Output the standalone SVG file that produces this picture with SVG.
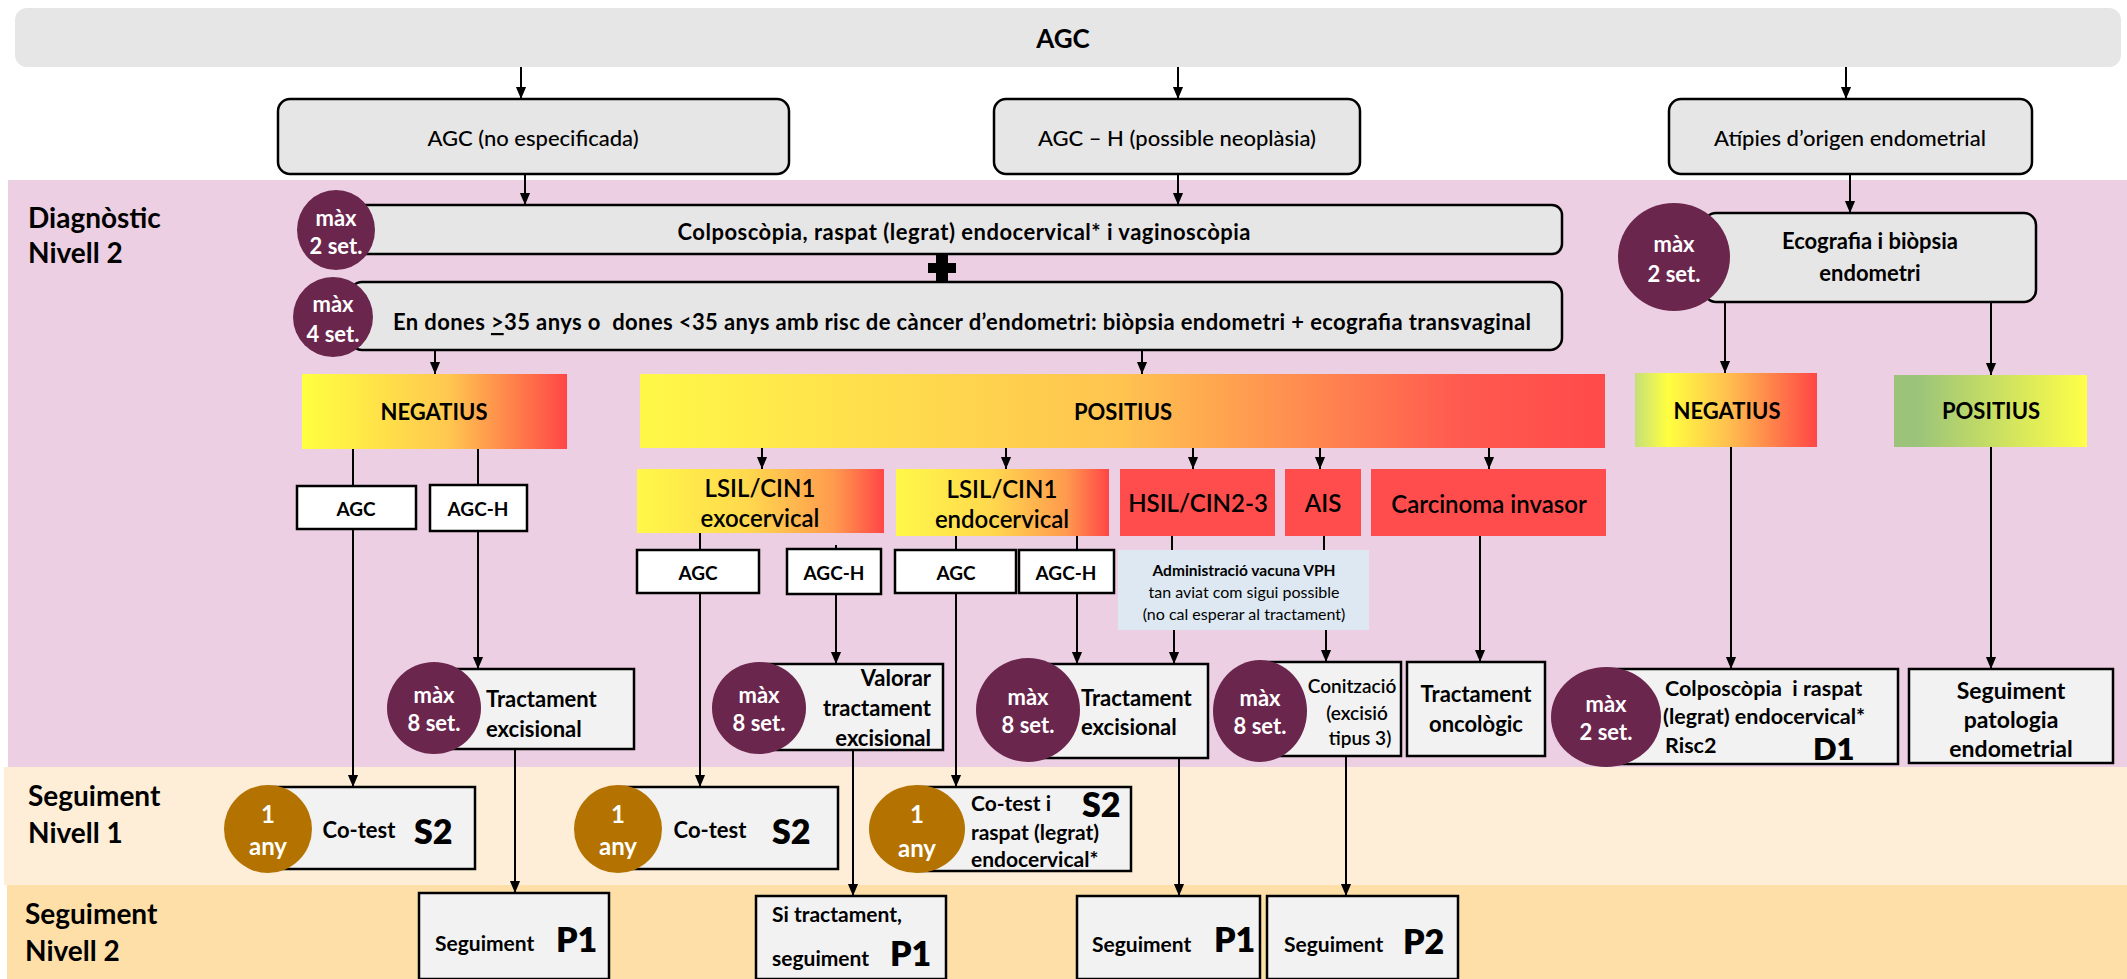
<svg xmlns="http://www.w3.org/2000/svg" width="2127" height="979" viewBox="0 0 2127 979">
  <defs>
    <style>
      text { font-family: Lato, "Liberation Sans", sans-serif; fill: #000; dominant-baseline: central; }
      .t { font-size: 22px; font-weight: 700; }
      .tc { text-anchor: middle; }
      .te { text-anchor: end; }
      .h { font-size: 28px; font-weight: 700; }
      .big { font-size: 34px; font-weight: 800; }
      .res { font-size: 22px; font-weight: 700; text-anchor: middle; }
      .cat { font-size: 24px; font-weight: 600; text-anchor: middle; }
      .ct { font-size: 22px; font-weight: 700; text-anchor: middle; fill: #fff; }
      .top { fill: #e6e6e6; stroke: #000; stroke-width: 2.5; }
      .box { fill: #f2f2f2; stroke: #000; stroke-width: 2.5; }
      .wbox { fill: #fff; stroke: #000; stroke-width: 2.5; }
      .mx { fill: #6b264e; }
      .yr { fill: #b47300; }
      .red { fill: #ff4d4d; }
      .ln { stroke: #000; stroke-width: 2; fill: none; }
      .ar { marker-end: url(#ah); }
    </style>
    <marker id="ah" markerUnits="userSpaceOnUse" markerWidth="12" markerHeight="14" refX="13" refY="5.5" orient="auto" viewBox="0 0 13 11">
      <path d="M0,0 L13,5.5 L0,11 Z" fill="#000"/>
    </marker>
    <linearGradient id="gNeg" x1="0" y1="0" x2="1" y2="0">
      <stop offset="0" stop-color="#ffff40"/>
      <stop offset="0.55" stop-color="#ffc850"/>
      <stop offset="1" stop-color="#ff4646"/>
    </linearGradient>
    <linearGradient id="gPos" x1="0" y1="0" x2="1" y2="0">
      <stop offset="0" stop-color="#fff848"/>
      <stop offset="0.5" stop-color="#ffc350"/>
      <stop offset="0.85" stop-color="#ff5a4f"/>
      <stop offset="1" stop-color="#ff4a4a"/>
    </linearGradient>
    <linearGradient id="gLsil" x1="0" y1="0" x2="1" y2="0">
      <stop offset="0" stop-color="#fff848"/>
      <stop offset="0.45" stop-color="#ffd84e"/>
      <stop offset="0.8" stop-color="#ff9a4e"/>
      <stop offset="1" stop-color="#ff4646"/>
    </linearGradient>
    <linearGradient id="gNegR" x1="0" y1="0" x2="1" y2="0">
      <stop offset="0" stop-color="#c5e07a"/>
      <stop offset="0.18" stop-color="#ffff40"/>
      <stop offset="0.5" stop-color="#ffc24f"/>
      <stop offset="1" stop-color="#ff4646"/>
    </linearGradient>
    <linearGradient id="gPosR" x1="0" y1="0" x2="1" y2="0">
      <stop offset="0" stop-color="#9bc47a"/>
      <stop offset="0.12" stop-color="#9bc47a"/>
      <stop offset="1" stop-color="#ffff48"/>
    </linearGradient>
  </defs>

  <rect width="2127" height="979" fill="#fff"/>

  <!-- level bands -->
  <g id="bands">
    <rect x="8" y="180" width="2119" height="587" fill="#edcfe3"/>
    <rect x="4" y="767" width="2123" height="118" fill="#feeed7"/>
    <rect x="7" y="885" width="2120" height="94" fill="#ffdfa8"/>
    <text class="h" x="28" y="217">Diagnòstic</text>
    <text class="h" x="28" y="252">Nivell 2</text>
    <text class="h" x="28" y="795">Seguiment</text>
    <text class="h" x="28" y="832">Nivell 1</text>
    <text class="h" x="25" y="913">Seguiment</text>
    <text class="h" x="25" y="950">Nivell 2</text>
  </g>

  <!-- top level -->
  <g id="agc">
    <rect x="15" y="8" width="2106" height="59" rx="12" fill="#e6e6e6"/>
    <text class="tc" x="1063" y="38" style="font-size:26px;font-weight:700">AGC</text>
  </g>
  <g id="agc-ne">
    <rect class="top" x="278" y="99" width="511" height="75" rx="12"/>
    <text class="t tc" x="533" y="137" style="font-weight:500">AGC (no especificada)</text>
  </g>
  <g id="agc-h">
    <rect class="top" x="994" y="99" width="366" height="75" rx="12"/>
    <text class="t tc" x="1177" y="137" style="font-weight:500">AGC – H (possible neoplàsia)</text>
  </g>
  <g id="atipies">
    <rect class="top" x="1669" y="99" width="363" height="75" rx="12"/>
    <text class="t tc" x="1850" y="137" style="font-weight:500">Atípies d’origen endometrial</text>
  </g>

  <!-- diagnosis level -->
  <g id="colposcopia">
    <rect class="top" x="350" y="205" width="1212" height="49" rx="10"/>
    <ellipse class="mx" cx="336" cy="230" rx="39" ry="40"/>
    <text class="ct" x="336" y="217">màx</text>
    <text class="ct" x="336" y="245">2 set.</text>
    <text class="t tc" x="964" y="231" textLength="573" lengthAdjust="spacing">Colposcòpia, raspat (legrat) endocervical* i vaginoscòpia</text>
  </g>
  <path id="plus" d="M936,254 H948 V263 H956 V273 H948 V282 H936 V273 H928 V263 H936 Z" fill="#000"/>
  <g id="biopsia">
    <rect class="top" x="350" y="282" width="1212" height="68" rx="12"/>
    <ellipse class="mx" cx="333" cy="317" rx="40" ry="40"/>
    <text class="ct" x="333" y="303">màx</text>
    <text class="ct" x="333" y="333">4 set.</text>
    <text class="t" x="393" y="321" xml:space="preserve" textLength="1138" lengthAdjust="spacing">En dones <tspan text-decoration="underline">&gt;</tspan>35 anys o  dones &lt;35 anys amb risc de càncer d’endometri: biòpsia endometri + ecografia transvaginal</text>
  </g>
  <g id="ecografia">
    <rect class="top" x="1704" y="213" width="332" height="89" rx="12"/>
    <ellipse class="mx" cx="1674" cy="257" rx="56" ry="54"/>
    <text class="ct" x="1674" y="243">màx</text>
    <text class="ct" x="1674" y="273">2 set.</text>
    <text class="t tc" x="1870" y="240">Ecografia i biòpsia</text>
    <text class="t tc" x="1870" y="272">endometri</text>
  </g>

  <g id="negatius">
    <rect x="302" y="374" width="265" height="75" fill="url(#gNeg)"/>
    <text class="res" x="434" y="411">NEGATIUS</text>
  </g>
  <g id="positius">
    <rect x="640" y="374" width="965" height="74" fill="url(#gPos)"/>
    <text class="res" x="1123" y="411">POSITIUS</text>
  </g>
  <g id="negatius-endometri">
    <rect x="1635" y="373" width="182" height="74" fill="url(#gNegR)"/>
    <text class="res" x="1727" y="410">NEGATIUS</text>
  </g>
  <g id="positius-endometri">
    <rect x="1894" y="375" width="193" height="72" fill="url(#gPosR)"/>
    <text class="res" x="1991" y="410">POSITIUS</text>
  </g>

  <g id="lsil-exo">
    <rect x="637" y="469" width="247" height="64" fill="url(#gLsil)"/>
    <text class="cat" x="760" y="487">LSIL/CIN1</text>
    <text class="cat" x="760" y="517">exocervical</text>
  </g>
  <g id="lsil-endo">
    <rect x="896" y="469" width="213" height="67" fill="url(#gLsil)"/>
    <text class="cat" x="1002" y="488">LSIL/CIN1</text>
    <text class="cat" x="1002" y="518">endocervical</text>
  </g>
  <g id="hsil">
    <rect class="red" x="1120" y="469" width="155" height="67"/>
    <text class="cat" x="1198" y="502">HSIL/CIN2-3</text>
  </g>
  <g id="ais">
    <rect class="red" x="1285" y="469" width="76" height="67"/>
    <text class="cat" x="1323" y="502">AIS</text>
  </g>
  <g id="carcinoma">
    <rect class="red" x="1371" y="469" width="235" height="67"/>
    <text class="cat" x="1489" y="503">Carcinoma invasor</text>
  </g>

  <!-- cytology subtype boxes -->
  <g id="neg-agc">
    <rect class="wbox" x="297" y="486" width="119" height="43"/>
    <text class="t tc" x="356" y="508" style="font-size:19px">AGC</text>
  </g>
  <g id="neg-agch">
    <rect class="wbox" x="430" y="485" width="97" height="46"/>
    <text class="t tc" x="478" y="508" style="font-size:19px">AGC-H</text>
  </g>
  <g id="exo-agc">
    <rect class="wbox" x="637" y="550" width="122" height="43"/>
    <text class="t tc" x="698" y="572" style="font-size:19px">AGC</text>
  </g>
  <g id="exo-agch">
    <rect class="wbox" x="787" y="549" width="94" height="45"/>
    <text class="t tc" x="834" y="572" style="font-size:19px">AGC-H</text>
  </g>
  <g id="endo-agc">
    <rect class="wbox" x="895" y="550" width="121" height="43"/>
    <text class="t tc" x="956" y="572" style="font-size:19px">AGC</text>
  </g>
  <g id="endo-agch">
    <rect class="wbox" x="1019" y="550" width="95" height="43"/>
    <text class="t tc" x="1066" y="572" style="font-size:19px">AGC-H</text>
  </g>
  <g id="vacuna">
    <rect x="1118" y="550" width="251" height="80" fill="#dde8f2"/>
    <text class="tc" x="1244" y="570" style="font-size:15.5px;font-weight:700">Administració vacuna VPH</text>
    <text class="tc" x="1244" y="591" style="font-size:16px">tan aviat com sigui possible</text>
    <text class="tc" x="1244" y="613" style="font-size:16px">(no cal esperar al tractament)</text>
  </g>

  <!-- treatment boxes -->
  <g id="tract-neg">
    <rect class="box" x="434" y="669" width="200" height="80"/>
    <ellipse class="mx" cx="434" cy="708" rx="47" ry="46"/>
    <text class="ct" x="434" y="694">màx</text>
    <text class="ct" x="434" y="722">8 set.</text>
    <text class="t" x="486" y="698">Tractament</text>
    <text class="t" x="486" y="728">excisional</text>
  </g>
  <g id="valorar">
    <rect class="box" x="759" y="664" width="184" height="86"/>
    <ellipse class="mx" cx="759" cy="708" rx="47" ry="46"/>
    <text class="ct" x="759" y="694">màx</text>
    <text class="ct" x="759" y="722">8 set.</text>
    <text class="t te" x="931" y="677">Valorar</text>
    <text class="t te" x="931" y="707">tractament</text>
    <text class="t te" x="931" y="737">excisional</text>
  </g>
  <g id="tract-hsil">
    <rect class="box" x="1028" y="664" width="180" height="94"/>
    <ellipse class="mx" cx="1028" cy="710" rx="52" ry="52"/>
    <text class="ct" x="1028" y="696">màx</text>
    <text class="ct" x="1028" y="724">8 set.</text>
    <text class="t" x="1081" y="697">Tractament</text>
    <text class="t" x="1081" y="726">excisional</text>
  </g>
  <g id="conitzacio">
    <rect class="box" x="1260" y="662" width="141" height="94"/>
    <ellipse class="mx" cx="1260" cy="711" rx="47" ry="51"/>
    <text class="ct" x="1260" y="697">màx</text>
    <text class="ct" x="1260" y="725">8 set.</text>
    <text class="tc" x="1352" y="685" style="font-size:19px;font-weight:600">Conització</text>
    <text class="tc" x="1357" y="712" style="font-size:19px;font-weight:600">(excisió</text>
    <text class="tc" x="1360" y="737" style="font-size:19px;font-weight:600">tipus 3)</text>
  </g>
  <g id="oncologic">
    <rect class="box" x="1407" y="662" width="138" height="94"/>
    <text class="t tc" x="1476" y="693">Tractament</text>
    <text class="t tc" x="1476" y="723">oncològic</text>
  </g>
  <g id="colpo-d1">
    <rect class="box" x="1606" y="669" width="292" height="95"/>
    <ellipse class="mx" cx="1606" cy="717" rx="55" ry="50"/>
    <text class="ct" x="1606" y="703">màx</text>
    <text class="ct" x="1606" y="731">2 set.</text>
    <text class="t" x="1665" y="688" xml:space="preserve" style="font-size:21.5px">Colposcòpia  i raspat</text>
    <text class="t" x="1663" y="716" style="font-size:21.5px">(legrat) endocervical*</text>
    <text class="t" x="1665" y="745" style="font-size:21.5px">Risc2</text>
    <text class="big" x="1813" y="748" style="font-size:31px">D1</text>
  </g>
  <g id="seg-patologia">
    <rect class="box" x="1909" y="669" width="204" height="94"/>
    <text class="t tc" x="2011" y="690" style="font-size:23px">Seguiment</text>
    <text class="t tc" x="2011" y="719" style="font-size:23px">patologia</text>
    <text class="t tc" x="2011" y="748" style="font-size:23px">endometrial</text>
  </g>

  <!-- follow-up level 1 -->
  <g id="cotest-1">
    <rect class="box" x="268" y="787" width="207" height="82"/>
    <ellipse class="yr" cx="268" cy="829" rx="44" ry="44"/>
    <text class="ct" x="268" y="813" style="font-size:24px">1</text>
    <text class="ct" x="268" y="845" style="font-size:24px">any</text>
    <text class="t tc" x="359" y="829">Co-test</text>
    <text class="big" x="414" y="830">S2</text>
  </g>
  <g id="cotest-2">
    <rect class="box" x="618" y="787" width="220" height="82"/>
    <ellipse class="yr" cx="618" cy="829" rx="44" ry="44"/>
    <text class="ct" x="618" y="813" style="font-size:24px">1</text>
    <text class="ct" x="618" y="845" style="font-size:24px">any</text>
    <text class="t tc" x="710" y="829">Co-test</text>
    <text class="big" x="772" y="830">S2</text>
  </g>
  <g id="cotest-3">
    <rect class="box" x="917" y="787" width="214" height="84"/>
    <ellipse class="yr" cx="917" cy="829" rx="48" ry="44"/>
    <text class="ct" x="917" y="813" style="font-size:24px">1</text>
    <text class="ct" x="917" y="847" style="font-size:24px">any</text>
    <text class="t" x="971" y="802" style="font-size:21px">Co-test i</text>
    <text class="t" x="971" y="831" style="font-size:21px">raspat (legrat)</text>
    <text class="t" x="971" y="858" style="font-size:21px">endocervical*</text>
    <text class="big" x="1082" y="803">S2</text>
  </g>

  <!-- follow-up level 2 -->
  <g id="seg-p1-a">
    <rect class="box" x="419" y="893" width="190" height="86"/>
    <text class="t" x="435" y="942" style="font-size:21px">Seguiment</text>
    <text class="big" x="556" y="938">P1</text>
  </g>
  <g id="seg-p1-b">
    <rect class="box" x="756" y="896" width="190" height="83"/>
    <text class="t" x="772" y="913" style="font-size:21px">Si tractament,</text>
    <text class="t" x="772" y="957" style="font-size:21px">seguiment</text>
    <text class="big" x="890" y="952">P1</text>
  </g>
  <g id="seg-p1-c">
    <rect class="box" x="1077" y="896" width="183" height="83"/>
    <text class="t" x="1092" y="943" style="font-size:21px">Seguiment</text>
    <text class="big" x="1214" y="938">P1</text>
  </g>
  <g id="seg-p2">
    <rect class="box" x="1267" y="896" width="191" height="83"/>
    <text class="t" x="1284" y="943" style="font-size:21px">Seguiment</text>
    <text class="big" x="1403" y="940">P2</text>
  </g>

  <!-- connectors -->
  <g id="connectors" class="ln">
    <path class="ar" d="M521,67 V99"/>
    <path class="ar" d="M1178,67 V99"/>
    <path class="ar" d="M1846,67 V99"/>
    <path class="ar" d="M525,174 V205"/>
    <path class="ar" d="M1178,174 V205"/>
    <path class="ar" d="M1850,174 V213"/>
    <path class="ar" d="M435,350 V374"/>
    <path class="ar" d="M1142,350 V374"/>
    <path class="ar" d="M1725,302 V373"/>
    <path class="ar" d="M1991,302 V375"/>
    <path class="ar" d="M762,448 V469"/>
    <path class="ar" d="M1006,448 V469"/>
    <path class="ar" d="M1193,448 V469"/>
    <path class="ar" d="M1320,448 V469"/>
    <path class="ar" d="M1489,448 V469"/>
    <path d="M353,449 V486"/>
    <path d="M478,449 V485"/>
    <path class="ar" d="M353,529 V787"/>
    <path class="ar" d="M478,531 V669"/>
    <path d="M700,533 V550"/>
    <path d="M836,545 V549"/>
    <path d="M956,536 V550"/>
    <path d="M1077,536 V550"/>
    <path d="M1172,536 V550"/>
    <path d="M1324,536 V550"/>
    <path class="ar" d="M700,593 V787"/>
    <path class="ar" d="M836,594 V664"/>
    <path class="ar" d="M956,593 V787"/>
    <path class="ar" d="M1077,593 V664"/>
    <path class="ar" d="M1174,630 V664"/>
    <path class="ar" d="M1326,630 V662"/>
    <path class="ar" d="M1480,536 V662"/>
    <path class="ar" d="M1731,447 V669"/>
    <path class="ar" d="M1991,447 V669"/>
    <path class="ar" d="M515,749 V893"/>
    <path class="ar" d="M853,750 V896"/>
    <path class="ar" d="M1179,758 V896"/>
    <path class="ar" d="M1346,756 V896"/>
  </g>
</svg>
